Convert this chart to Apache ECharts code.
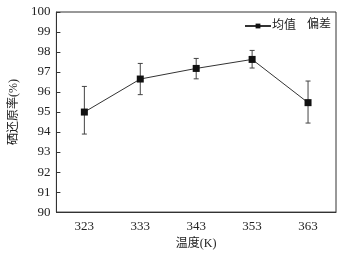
<!DOCTYPE html>
<html><head><meta charset="utf-8">
<script src="https://cdn.jsdelivr.net/npm/echarts@6/dist/echarts.min.js"></script>
<style>html,body{margin:0;padding:0;background:#fff}#c{width:351px;height:255px}</style>
</head><body><div id="c"></div>
<script>
var categories = ['323', '333', '343', '353', '363'];
var meanValues = [95.0, 96.65, 97.18, 97.63, 95.47];
var errLow = [93.9, 95.87, 96.66, 97.2, 94.45];
var errHigh = [96.28, 97.43, 97.68, 98.08, 96.55];
var yTicks = [90, 91, 92, 93, 94, 95, 96, 97, 98, 99, 100];

var chart = echarts.init(document.getElementById('c'));
var serif = 'Liberation Serif, Times New Roman, serif';
var cjk = 'Liberation Serif, Noto Sans CJK SC, serif';
var errData = categories.map(function (c, i) { return [i, errLow[i], errHigh[i]]; });
chart.setOption({
  animation: false,
  grid: { left: 52, right: 15, top: 12, bottom: 37, show: true, borderColor: '#333', borderWidth: 1 },
  legend: {
    right: 50, top: 15, itemWidth: 26, itemHeight: 6,
    textStyle: { fontFamily: cjk, fontSize: 12, color: '#222', padding: [0, 0, 0, -4] },
    data: [{ name: '均值' }]
  },
  graphic: [{
    type: 'text', left: 307, top: 19,
    style: { text: '偏差', fontFamily: cjk, fontSize: 12, fill: '#222' }
  }],
  xAxis: {
    type: 'category', data: categories, boundaryGap: true,
    name: '温度(K)', nameLocation: 'middle', nameGap: 19,
    nameTextStyle: { fontFamily: cjk, fontSize: 12, color: '#222' },
    axisLine: { lineStyle: { color: '#333' } },
    axisTick: { inside: true, length: 4, alignWithLabel: true, lineStyle: { color: '#333' } },
    axisLabel: { fontFamily: serif, fontSize: 13, color: '#222', margin: 8 },
    splitLine: { show: false }
  },
  yAxis: {
    type: 'value', min: 90, max: 100, interval: 1,
    name: '硒还原率(%)', nameLocation: 'middle', nameGap: 33,
    nameTextStyle: { fontFamily: cjk, fontSize: 12, color: '#222' },
    axisLine: { show: true, lineStyle: { color: '#333' } },
    axisTick: { show: true, inside: true, length: 4, lineStyle: { color: '#333' } },
    axisLabel: { fontFamily: serif, fontSize: 13, color: '#222', margin: 6,
      formatter: function (v) { return yTicks.indexOf(v) >= 0 ? String(v) : ''; } },
    splitLine: { show: false }
  },
  series: [
    {
      name: '均值', type: 'line', data: meanValues, symbol: 'rect', symbolSize: 7,
      itemStyle: { color: '#111' }, lineStyle: { color: '#333', width: 1 }, z: 3
    },
    {
      name: '偏差', type: 'custom', data: errData, z: 2,
      itemStyle: { color: '#444' },
      renderItem: function (params, api) {
        var x = api.value(0);
        var lo = api.coord([x, api.value(1)]);
        var hi = api.coord([x, api.value(2)]);
        var w = 2.5;
        var st = { stroke: '#444', lineWidth: 1, fill: null };
        return { type: 'group', children: [
          { type: 'line', shape: { x1: lo[0], y1: lo[1], x2: hi[0], y2: hi[1] }, style: st },
          { type: 'line', shape: { x1: lo[0] - w, y1: lo[1], x2: lo[0] + w, y2: lo[1] }, style: st },
          { type: 'line', shape: { x1: hi[0] - w, y1: hi[1], x2: hi[0] + w, y2: hi[1] }, style: st }
        ] };
      }
    }
  ]
});
</script></body></html>
